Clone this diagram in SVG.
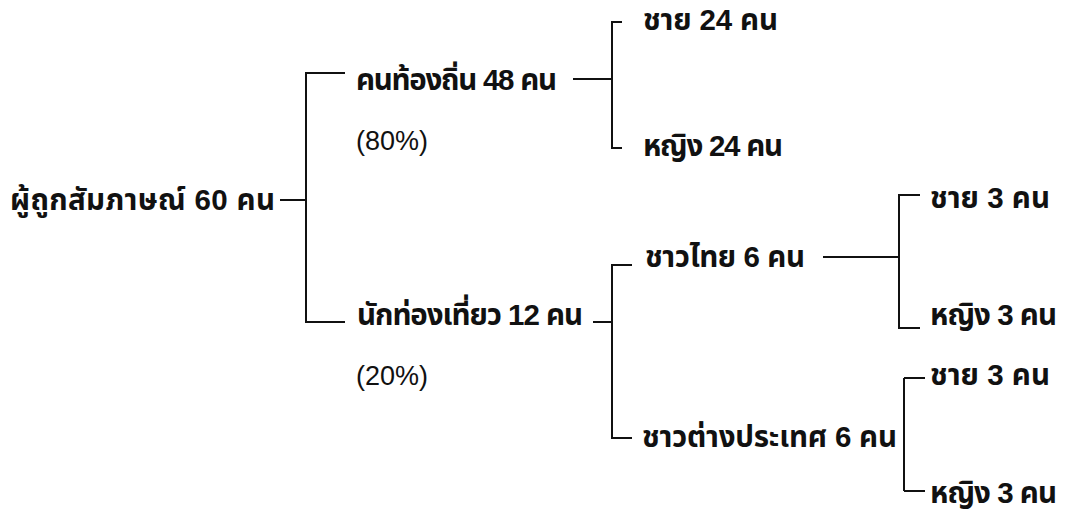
<svg xmlns="http://www.w3.org/2000/svg" width="1069" height="512" viewBox="0 0 1069 512">
<style>
text{font-family:"Liberation Sans","Noto Sans Thai","Noto Sans",sans-serif;font-size:27px;fill:#111}
.th{font-weight:bold;font-size:29.5px}
.c{fill:none;stroke:#111;stroke-width:2}
</style>
<rect width="1069" height="512" fill="#fff"/>
<g id="connectors" class="c">
<path d="M280 200H306M345 73H306V322H345"/>
<path d="M573 79H612M622 22H612V148H622"/>
<path d="M593 322H612M632 265H612V438H632"/>
<path d="M823 257H899M920 195H899V328H920"/>
<path d="M904 378V491M925 378H904M925 491H904"/>
</g>
<g id="root"><text class="th" x="10" y="210" textLength="265">ผู้ถูกสัมภาษณ์ 60 คน</text></g>
<g id="local"><text class="th" x="356" y="90" textLength="201">คนท้องถิ่น 48 คน</text><text x="356" y="150">(80%)</text></g>
<g id="tourist"><text class="th" x="356" y="325" textLength="226">นักท่องเที่ยว 12 คน</text><text x="356" y="385">(20%)</text></g>
<g id="local-m"><text class="th" x="643" y="30" textLength="135">ชาย 24 คน</text></g>
<g id="local-f"><text class="th" x="643" y="156" textLength="140">หญิง 24 คน</text></g>
<g id="thai"><text class="th" x="645" y="267" textLength="160">ชาวไทย 6 คน</text></g>
<g id="foreign"><text class="th" x="642" y="447" textLength="255">ชาวต่างประเทศ 6 คน</text></g>
<g id="thai-m"><text class="th" x="930" y="208" textLength="120">ชาย 3 คน</text></g>
<g id="thai-f"><text class="th" x="930" y="325" textLength="127">หญิง 3 คน</text></g>
<g id="foreign-m"><text class="th" x="930" y="385" textLength="120">ชาย 3 คน</text></g>
<g id="foreign-f"><text class="th" x="930" y="503" textLength="127">หญิง 3 คน</text></g>
</svg>
